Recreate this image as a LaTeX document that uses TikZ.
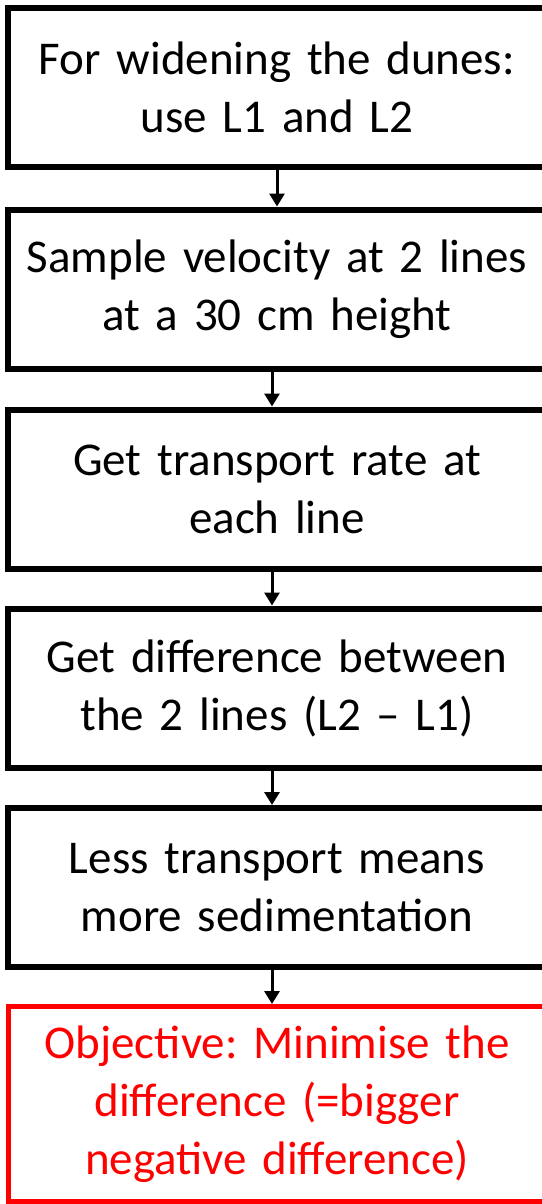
\documentclass[tikz,border=0pt]{standalone}
\usepackage{fontspec}
\setmainfont{Carlito}
\usepackage{xcolor}
\usepackage{tikz}
\usetikzlibrary{arrows.meta}
\frenchspacing

\tikzset{
  stepbox/.style={draw, line width=6pt, inner sep=0pt, minimum width=538pt,
    minimum height=159pt, text width=530pt, align=center,
    font=\fontsize{47}{58}\selectfont},
  goalbox/.style={stepbox, draw=red, text=red, line width=5pt, minimum height=195pt},
  flow/.style={line width=3pt, -{Triangle[length=13pt,width=15pt]}}
}

\begin{document}
\begin{tikzpicture}[x=1pt,y=1pt]
\useasboundingbox (0,0) rectangle (541,-1204);

\node[stepbox] (dunes) at (277,-87.5) {For widening the dunes:\\use L1 and L2};
\node[stepbox] (sample) at (277,-289) {Sample velocity at 2 lines\\at a 30 cm height};
\node[stepbox] (rate) at (277,-489) {Get transport rate at\\each line};
\node[stepbox] (diff) at (277,-688) {Get difference between\\the 2 lines (L2 -- L1)};
\node[stepbox] (sedim) at (277,-887.5) {Less transport means\\more sedimentation};
\node[goalbox] (goal) at (277,-1104) {Objective: Minimise the\\difference (=bigger\\negative difference)};

\draw [flow] (dunes.south) -- (sample.north);
\draw [flow] ([xshift=-5pt]sample.south) -- ([xshift=-5pt]rate.north);
\draw [flow] ([xshift=-5pt]rate.south) -- ([xshift=-5pt]diff.north);
\draw [flow] ([xshift=-5pt]diff.south) -- ([xshift=-5pt]sedim.north);
\draw [flow] ([xshift=-5pt]sedim.south) -- ([xshift=-5pt]goal.north);
\end{tikzpicture}
\end{document}
